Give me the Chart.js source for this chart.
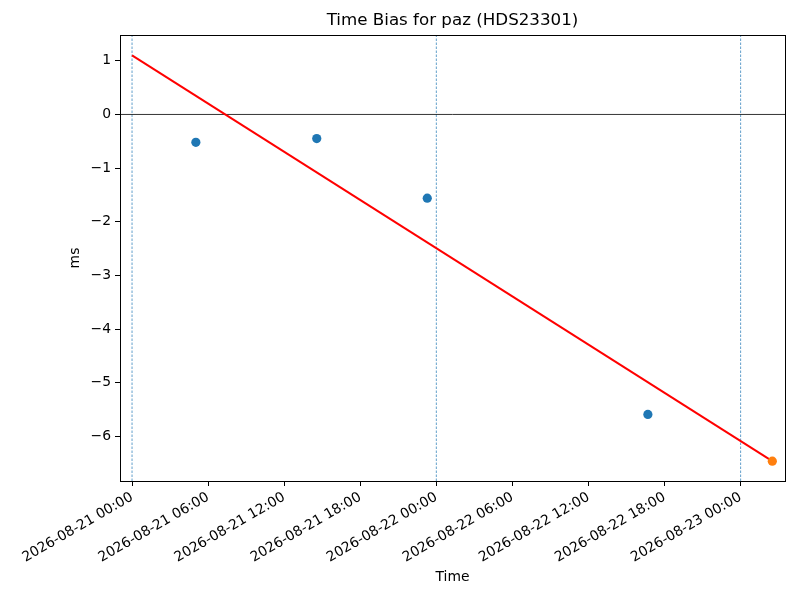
<!DOCTYPE html>
<html>
<head>
<meta charset="utf-8">
<script src="https://cdn.jsdelivr.net/npm/chart.js@4.4.1/dist/chart.umd.min.js"></script>
<style>
  html, body { margin: 0; padding: 0; background: #fff; }
  #wrap { width: 800px; height: 600px; }
</style>
</head>
<body>
<div id="wrap"><canvas id="mygraph" width="800" height="600"></canvas></div>
<script>
// measured points (blue), latest point (orange), fitted line (red)
const pointTimes = ['2026-08-21 05:02', '2026-08-21 14:34', '2026-08-21 23:17', '2026-08-22 16:41']
const pointBias = [-0.52, -0.45, -1.56, -5.59]
const latestTimes = ['2026-08-23 02:30']
const latestBias = [-6.46]
const fitTimes = ['2026-08-21 00:00', '2026-08-23 02:30']
const fitBias = [1.10, -6.46]
const dayLines = ['2026-08-21 00:00', '2026-08-22 00:00', '2026-08-23 00:00']

const xTickLabels = ['2026-08-21 00:00', '2026-08-21 06:00', '2026-08-21 12:00', '2026-08-21 18:00',
  '2026-08-22 00:00', '2026-08-22 06:00', '2026-08-22 12:00', '2026-08-22 18:00', '2026-08-23 00:00']
const yTicks = [-6, -5, -4, -3, -2, -1, 0, 1]
const xLimits = ['2026-08-20 23:03', '2026-08-23 03:30']
const yLimits = [-6.83, 1.48]

const BASE = Date.UTC(2026, 7, 21)
// time string -> hours since 2026-08-21 00:00 (UTC)
function toHours(s) {
  const [d, t] = s.split(' ')
  const [Y, M, D] = d.split('-').map(Number)
  const [h, m] = t.split(':').map(Number)
  return (Date.UTC(Y, M - 1, D, h, m) - BASE) / 3600000
}
function fmt(hours) {
  const dt = new Date(BASE + Math.round(hours * 3600000))
  const p = n => String(n).padStart(2, '0')
  return dt.getUTCFullYear() + '-' + p(dt.getUTCMonth() + 1) + '-' + p(dt.getUTCDate()) +
    ' ' + p(dt.getUTCHours()) + ':' + p(dt.getUTCMinutes())
}
const pts = (times, vals) => times.map((t, i) => ({x: toHours(t), y: vals[i]}))

const xMin = toHours(xLimits[0]), xMax = toHours(xLimits[1])

const datasets = [
  {type: 'scatter', data: pts(latestTimes, latestBias), backgroundColor: '#ff7f0e', borderWidth: 0, pointRadius: 4.6},
  {type: 'scatter', data: pts(pointTimes, pointBias), backgroundColor: '#1f77b4', borderWidth: 0, pointRadius: 4.6},
  {type: 'line', data: pts(fitTimes, fitBias), borderColor: '#ff0000', borderWidth: 2, pointRadius: 0, fill: false},
  {type: 'line', data: [{x: xMin, y: 0}, {x: xMax, y: 0}], borderColor: '#000', borderWidth: 0.8, pointRadius: 0}
]
dayLines.forEach(t => {
  datasets.push({type: 'line', data: [{x: toHours(t), y: yLimits[0]}, {x: toHours(t), y: yLimits[1]}],
    borderColor: '#1f77b4', borderWidth: 0.7, borderDash: [2.5, 1.5], pointRadius: 0})
})

const frame = {
  id: 'frame',
  afterDraw(chart) {
    const a = chart.chartArea, c = chart.ctx
    c.save()
    c.strokeStyle = '#000'
    c.lineWidth = 1
    c.strokeRect(Math.round(a.left) + 0.5, Math.round(a.top) + 0.5, Math.round(a.right - a.left), Math.round(a.bottom - a.top))
    c.restore()
  }
}

const font = {family: 'DejaVu Sans', size: 13.9}

new Chart(document.getElementById('mygraph'), {
  data: {datasets},
  plugins: [frame],
  options: {
    responsive: false,
    animation: false,
    layout: {padding: {left: 60, right: 15, top: 0, bottom: 10}},
    plugins: {
      legend: {display: false},
      tooltip: {enabled: false},
      title: {display: true, fullSize: false, text: 'Time Bias for paz (HDS23301)', color: '#000',
        font: {family: 'DejaVu Sans', size: 16.7, weight: 'normal'}, padding: {top: 11, bottom: 4}}
    },
    scales: {
      x: {
        type: 'linear', min: xMin, max: xMax,
        afterFit: s => { s.height = 109 },
        afterBuildTicks: s => { s.ticks = xTickLabels.map(l => ({value: toHours(l)})) },
        ticks: {color: '#000', font, minRotation: 30, maxRotation: 30, autoSkip: false, padding: 3,
          callback: v => fmt(v)},
        grid: {drawOnChartArea: false, drawTicks: true, tickLength: 5, color: '#000'},
        border: {display: false},
        title: {display: true, text: 'Time', color: '#000', font, padding: {top: 0, bottom: 4.6}}
      },
      y: {
        type: 'linear', min: yLimits[0], max: yLimits[1],
        afterFit: s => { s.width = 60 },
        afterBuildTicks: s => { s.ticks = yTicks.map(v => ({value: v})) },
        ticks: {color: '#000', font, padding: 4, callback: v => String(v).replace('-', '\u2212')},
        grid: {drawOnChartArea: false, drawTicks: true, tickLength: 5, color: '#000'},
        border: {display: false},
        title: {display: true, text: 'ms', color: '#000', font, padding: {top: 6.6, bottom: 0}}
      }
    }
  }
})
</script>
</body>
</html>
